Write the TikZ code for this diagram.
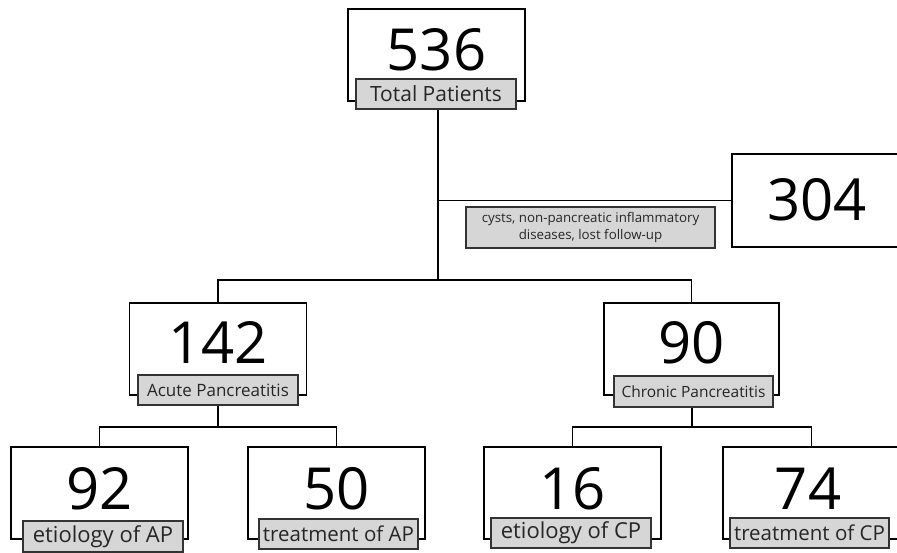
\documentclass[tikz,border=0pt]{standalone}
\usepackage{fontspec}
\setmainfont{Open Sans}
\newcommand{\fsz}[1]{\fontsize{#1}{#1}\selectfont}
\begin{document}
\begin{tikzpicture}[x=1pt,y=-1pt,
  numbox/.style={draw=black,line width=1.3pt,fill=white,minimum width=177pt,minimum height=92pt,inner sep=0pt},
  num/.style={font=\fontsize{58}{60}\selectfont,inner sep=0pt,text=black},
  tag/.style={draw=black!80,line width=1.3pt,fill=black!16,minimum width=160pt,minimum height=30pt,inner sep=0pt,font=\fontsize{19}{21}\selectfont,text=black!85},
  smalltag/.style={draw=black!80,line width=1.3pt,fill=black!16,minimum width=249pt,minimum height=41pt,inner sep=0pt,align=center,font=\fontsize{13.3}{17}\selectfont,text=black!85},
  conn/.style={draw=black,line width=1.3pt}]
\useasboundingbox (0,0) rectangle (897,553);
\clip (0,0) rectangle (897,553);
% boxes
\node[numbox] (tot) at (436.5,55) {};
\node[num] (totn) at (436.5,50) {536};
\node[numbox,minimum width=170pt,minimum height=93pt] (ex) at (817,200.5) {};
\node[num] (exn) at (817,200) {304};
\node[numbox] (ap) at (218,349) {};
\node[num] (apn) at (218,343) {142};
\node[numbox,minimum width=175pt] (cp) at (691.5,349) {};
\node[num] (cpn) at (691.5,343) {90};
\node[numbox] (ea) at (99.5,493) {};
\node[num] (ean) at (99.5,489) {92};
\node[numbox] (ta) at (336.5,493) {};
\node[num] (tan) at (336.5,489) {50};
\node[numbox] (ec) at (572.5,493) {};
\node[num] (ecn) at (572.5,489) {16};
\node[numbox] (tc) at (811.5,493) {};
\node[num] (tcn) at (808,489) {74};
% junctions
\coordinate (j1) at (438,280);
\coordinate (j2) at (218,427);
\coordinate (j3) at (692,427);
% connectors
\draw[conn] (438,108) -- (j1);
\draw[conn] (ex.west) -- (ex.west -| j1);
\draw[conn] (ap.north) |- (j1) -| (cp.north);
\draw[conn] (218,405) -- (j2);
\draw[conn] (ea.north) |- (j2) -| (ta.north);
\draw[conn] (692,407) -- (j3);
\draw[conn] (ec.north) |- (j3) -| (tc.north);
% tags
\node[tag,font=\fsz{21}] (totl) at (436,94) {Total Patients};
\node[smalltag] (exl) at (590.5,227.5) {cysts, non-pancreatic inflammatory\\diseases, lost follow-up};
\node[tag,font=\fsz{17}] (apl) at (218,390) {Acute Pancreatitis};
\node[tag,font=\fsz{15.5},minimum width=159pt,minimum height=31pt] (cpl) at (693.5,391.5) {Chronic Pancreatitis};
\node[tag,font=\fsz{22},minimum height=31pt] (eal) at (103,536.5) {etiology of AP};
\node[tag,font=\fsz{20.5},minimum width=159pt] (tal) at (338.5,534) {treatment of AP};
\node[tag,font=\fsz{22}] (ecl) at (571,533) {etiology of CP};
\node[tag,font=\fsz{20.5},minimum width=159pt] (tcl) at (809.5,533) {treatment of CP};
\end{tikzpicture}
\end{document}
